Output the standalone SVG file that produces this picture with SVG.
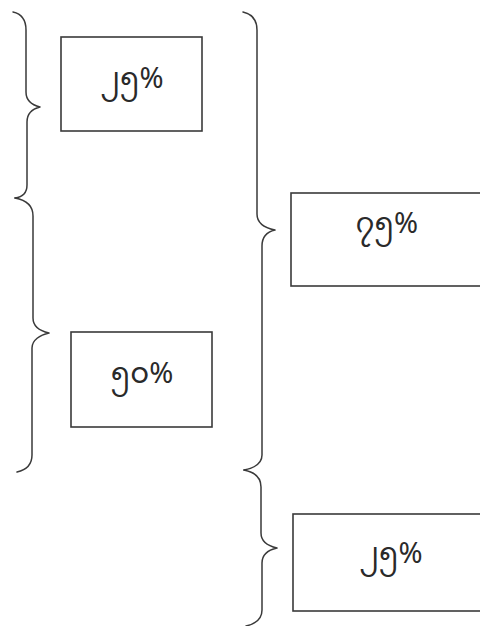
<svg xmlns="http://www.w3.org/2000/svg" width="480" height="626" viewBox="0 0 480 626">
<style>
.box{fill:#fff;stroke:#3a3a3a;stroke-width:1.6}
.brace{fill:none;stroke:#3a3a3a;stroke-width:1.5;stroke-linecap:round;stroke-linejoin:round}
.lbl{font-family:"Noto Sans Myanmar","Padauk","Myanmar Text","Noto Sans",sans-serif;font-size:29px;fill:#2a2a2a;text-anchor:middle}
</style>
<rect width="480" height="626" fill="#fff"/>
<g id="connectors">
<path class="brace" d="M13,12 C22,14 26,20 26,30 L26,92 C26,100 32,105 40,107 C32,109 27,114 27,122 L27,185 C27,193 22,197 15,198"/>
<path class="brace" d="M15,198 C26,200 33,206 33,216 L33,318 C33,326 40,331 49,333 C40,335 32,340 32,348 L32,455 C32,465 26,470 17,472"/>
<path class="brace" d="M243,12 C252,14 257,20 257,30 L257,214 C257,223 265,228 275,230 C266,232 262,237 262,246 L262,455 C262,464 254,468 244,470"/>
<path class="brace" d="M244,470 C254,472 261,477 261,487 L261,533 C261,542 268,546 277,548 C268,550 262,554 262,563 L262,610 C262,619 255,624 246,626"/>
</g>
<g id="node-top">
<rect class="box" x="61" y="37" width="141" height="94"/>
<text class="lbl" x="132" y="88">၂၅%</text>
</g>
<g id="node-middle">
<rect class="box" x="71" y="332" width="141" height="95"/>
<text class="lbl" x="142" y="383">၅၀%</text>
</g>
<g id="node-right">
<rect class="box" x="291" y="193" width="192" height="93"/>
<text class="lbl" x="387" y="233">၇၅%</text>
</g>
<g id="node-bottom">
<rect class="box" x="293" y="514" width="190" height="97"/>
<text class="lbl" x="391" y="563">၂၅%</text>
</g>
</svg>
